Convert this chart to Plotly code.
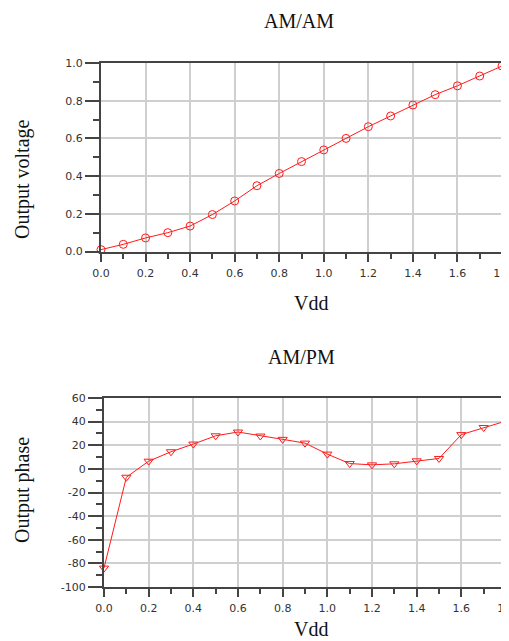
import plotly.graph_objects as go

vdd = [0.0, 0.1, 0.2, 0.3, 0.4, 0.5, 0.6, 0.7, 0.8, 0.9, 1.0, 1.1, 1.2, 1.3, 1.4, 1.5, 1.6, 1.7, 1.8]
out_voltage = [0.01, 0.038, 0.072, 0.10, 0.135, 0.196, 0.268, 0.349, 0.414, 0.477, 0.539, 0.60, 0.662,
               0.719, 0.777, 0.832, 0.879, 0.931, 0.984]
out_phase = [-84.0, -7.1, 6.5, 14.5, 21.0, 28.0, 31.2, 27.8, 25.0, 21.8, 12.5, 4.5, 3.4, 4.3, 6.8, 8.8,
             29.0, 35.0, 40.5]

x_tick_vals = [0.0, 0.2, 0.4, 0.6, 0.8, 1.0, 1.2, 1.4, 1.6, 1.8]
x_tick_text = ["0.0", "0.2", "0.4", "0.6", "0.8", "1.0", "1.2", "1.4", "1.6", "1.8"]
v_tick_vals = [0.0, 0.2, 0.4, 0.6, 0.8, 1.0]
v_tick_text = ["0.0", "0.2", "0.4", "0.6", "0.8", "1.0"]
p_tick_vals = [-100, -80, -60, -40, -20, 0, 20, 40, 60]
p_tick_text = ["-100", "-80", "-60", "-40", "-20", "0", "20", "40", "60"]

# page body has an 8px default margin; figure is sized/positioned to compensate
OFF = 8
PAGE_W, PAGE_H = 509, 641
W, H = PAGE_W - OFF, PAGE_H - OFF
RED = "#ff1a1a"

fig = go.Figure()
fig.add_trace(go.Scatter(x=vdd, y=out_voltage, mode="lines+markers", xaxis="x", yaxis="y",
                         line=dict(color=RED, width=1),
                         marker=dict(symbol="circle-open", size=8, color=RED, line=dict(width=1)),
                         cliponaxis=False, showlegend=False))
fig.add_trace(go.Scatter(x=vdd, y=out_phase, mode="lines+markers", xaxis="x2", yaxis="y2",
                         line=dict(color=RED, width=1),
                         marker=dict(symbol="triangle-down-open", size=8, color=RED, line=dict(width=1)),
                         cliponaxis=False, showlegend=False))

AXC = "#444444"
tickfont = dict(family="DejaVu Sans", size=11, color="#333333")
common = dict(showline=True, linecolor=AXC, linewidth=2, mirror=True,
              showgrid=True, gridcolor="#cfcfcf", gridwidth=1.5,
              ticks="outside", tickcolor=AXC, tickwidth=1.5, tickfont=tickfont,
              zeroline=False, fixedrange=True, automargin=False, tickmode="array",
              ticklabeloverflow="allow")

def px_x(p):
    return (p - OFF) / W

def px_y(p):
    return 1 - (p - OFF) / H

xminor = dict(dtick=0.1, tick0=0, ticks="outside", ticklen=5, tickcolor=AXC, tickwidth=1.5, showgrid=False)

fig.update_layout(
    width=W, height=H, margin=dict(l=0, r=0, t=0, b=0),
    paper_bgcolor="white", plot_bgcolor="white",
    xaxis=dict(domain=[px_x(101), px_x(502)], range=[0, 1.8], tickvals=x_tick_vals, ticktext=x_tick_text,
               anchor="y", ticklen=8, ticklabelstandoff=2, minor=xminor, **common),
    yaxis=dict(domain=[px_y(251.5), px_y(63)], range=[0, 1.0], tickvals=v_tick_vals, ticktext=v_tick_text,
               anchor="x", ticklen=14, ticklabelstandoff=0,
               minor=dict(dtick=0.1, tick0=0, ticks="outside", ticklen=6, tickcolor=AXC, tickwidth=1.5, showgrid=False),
               **common),
    xaxis2=dict(domain=[px_x(104), px_x(506)], range=[0, 1.8], tickvals=x_tick_vals, ticktext=x_tick_text,
                anchor="y2", ticklen=8, ticklabelstandoff=2, minor=xminor, **common),
    yaxis2=dict(domain=[px_y(587), px_y(398)], range=[-100, 60], tickvals=p_tick_vals, ticktext=p_tick_text,
                anchor="x2", ticklen=14, ticklabelstandoff=0,
                minor=dict(dtick=10, tick0=0, ticks="outside", ticklen=6, tickcolor=AXC, tickwidth=1.5, showgrid=False),
                **common),
)

serif = "Liberation Serif"
ann = [
    dict(text="AM/AM", x=299, y=21),
    dict(text="Vdd", x=311, y=303),
    dict(text="AM/PM", x=301, y=357),
    dict(text="Vdd", x=311, y=629),
]
for a in ann:
    fig.add_annotation(text=a["text"], x=px_x(a["x"]), y=px_y(a["y"]), xref="paper", yref="paper",
                       xanchor="center", yanchor="middle", showarrow=False,
                       font=dict(family=serif, size=20, color="#111111"))
fig.add_annotation(text="Output voltage", x=px_x(22), y=px_y(179), xref="paper", yref="paper",
                   xanchor="center", yanchor="middle", showarrow=False, textangle=-90,
                   font=dict(family=serif, size=20, color="#111111"))
fig.add_annotation(text="Output phase", x=px_x(22), y=px_y(490), xref="paper", yref="paper",
                   xanchor="center", yanchor="middle", showarrow=False, textangle=-90,
                   font=dict(family=serif, size=20, color="#111111"))

fig.write_html("out.html")
